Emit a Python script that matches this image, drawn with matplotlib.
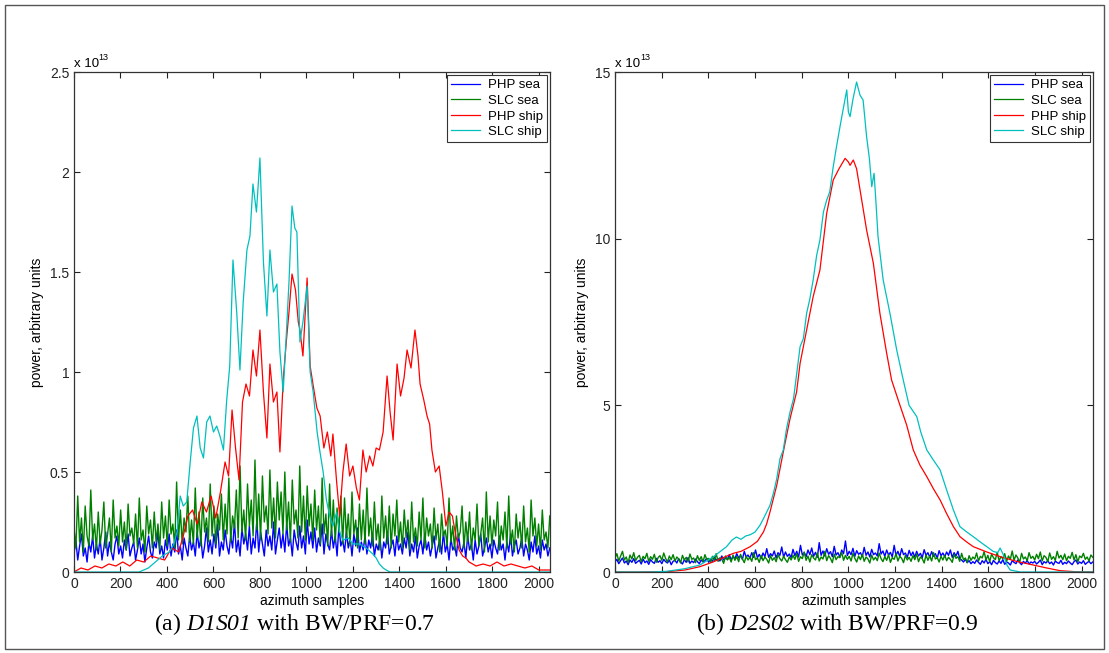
import matplotlib.pyplot as plt
import numpy as np
from matplotlib.patches import Rectangle
from matplotlib.ticker import FormatStrFormatter

plt.rcParams['font.family'] = ['Liberation Sans', 'DejaVu Sans']
# math mode only used for the italic run names in the captions
plt.rcParams['mathtext.fontset'] = 'custom'
plt.rcParams['mathtext.rm'] = 'Liberation Serif:italic'
plt.rcParams['mathtext.it'] = 'Liberation Serif:italic'

# all powers in units of 1e13

# (a) D1S01 -- sea clutter, one value every 8 samples
a_php_sea = [0.09, 0.16, 0.06, 0.13, 0.19, 0.08, 0.12, 0.05, 0.15, 0.10, 0.18, 0.07, 0.14, 0.09, 0.17, 0.06,
             0.12, 0.20, 0.08, 0.15, 0.10, 0.06, 0.14, 0.18, 0.09, 0.13, 0.07, 0.16, 0.11, 0.19, 0.08, 0.12,
             0.15, 0.06, 0.11, 0.17, 0.09, 0.14, 0.05, 0.12, 0.18, 0.10, 0.07, 0.15, 0.12, 0.20, 0.09, 0.13,
             0.07, 0.16, 0.11, 0.19, 0.08, 0.14, 0.10, 0.21, 0.09, 0.13, 0.06, 0.17, 0.12, 0.08, 0.18, 0.11,
             0.15, 0.08, 0.20, 0.12, 0.17, 0.07, 0.13, 0.22, 0.10, 0.16, 0.09, 0.19, 0.12, 0.24, 0.08, 0.15,
             0.11, 0.21, 0.13, 0.09, 0.18, 0.12, 0.25, 0.10, 0.16, 0.08, 0.22, 0.14, 0.19, 0.11, 0.23, 0.09,
             0.17, 0.12, 0.26, 0.10, 0.20, 0.14, 0.08, 0.21, 0.13, 0.18, 0.11, 0.25, 0.09, 0.16, 0.22, 0.12,
             0.19, 0.10, 0.24, 0.13, 0.17, 0.08, 0.21, 0.15, 0.11, 0.23, 0.12, 0.18, 0.09, 0.26, 0.14, 0.20,
             0.12, 0.22, 0.10, 0.17, 0.13, 0.24, 0.09, 0.19, 0.14, 0.11, 0.21, 0.12, 0.18, 0.08, 0.23, 0.13,
             0.16, 0.10, 0.20, 0.12, 0.17, 0.08, 0.19, 0.13, 0.22, 0.10, 0.15, 0.11, 0.18, 0.09, 0.16, 0.12,
             0.19, 0.08, 0.14, 0.11, 0.17, 0.07, 0.15, 0.12, 0.20, 0.09, 0.13, 0.16, 0.08, 0.18, 0.11, 0.14,
             0.09, 0.17, 0.12, 0.20, 0.08, 0.14, 0.10, 0.18, 0.07, 0.13, 0.16, 0.09, 0.19, 0.11, 0.15, 0.08,
             0.13, 0.18, 0.07, 0.12, 0.16, 0.09, 0.20, 0.10, 0.14, 0.06, 0.17, 0.11, 0.13, 0.08, 0.19, 0.12,
             0.10, 0.15, 0.07, 0.18, 0.11, 0.14, 0.06, 0.16, 0.09, 0.13, 0.19, 0.08, 0.12, 0.17, 0.10, 0.14,
             0.07, 0.16, 0.12, 0.09, 0.18, 0.11, 0.14, 0.06, 0.15, 0.10, 0.19, 0.08, 0.13, 0.16, 0.09, 0.12,
             0.17, 0.08, 0.14, 0.11, 0.06, 0.15, 0.10, 0.18, 0.09, 0.13, 0.07, 0.16, 0.11, 0.14, 0.08, 0.12]
a_slc_sea = [0.22, 0.12, 0.38, 0.15, 0.27, 0.10, 0.33, 0.18, 0.13, 0.41, 0.16, 0.24, 0.11, 0.30, 0.14, 0.21,
             0.35, 0.12, 0.19, 0.27, 0.10, 0.36, 0.17, 0.23, 0.13, 0.31, 0.15, 0.25, 0.11, 0.34, 0.18, 0.22,
             0.14, 0.29, 0.12, 0.37, 0.16, 0.21, 0.10, 0.33, 0.19, 0.26, 0.12, 0.30, 0.15, 0.24, 0.11, 0.35,
             0.17, 0.28, 0.13, 0.36, 0.19, 0.24, 0.12, 0.45, 0.16, 0.31, 0.14, 0.27, 0.20, 0.38, 0.15, 0.26,
             0.14, 0.42, 0.17, 0.30, 0.13, 0.37, 0.20, 0.27, 0.15, 0.44, 0.18, 0.33, 0.14, 0.29, 0.21, 0.39,
             0.16, 0.34, 0.19, 0.47, 0.15, 0.28, 0.22, 0.41, 0.17, 0.53, 0.20, 0.31, 0.16, 0.44, 0.23, 0.36,
             0.18, 0.56, 0.21, 0.39, 0.16, 0.48, 0.25, 0.33, 0.19, 0.51, 0.22, 0.37, 0.17, 0.45, 0.26, 0.40,
             0.19, 0.50, 0.21, 0.35, 0.15, 0.46, 0.24, 0.31, 0.17, 0.53, 0.20, 0.38, 0.16, 0.43, 0.23, 0.34,
             0.16, 0.41, 0.21, 0.33, 0.14, 0.47, 0.19, 0.29, 0.13, 0.44, 0.18, 0.36, 0.15, 0.32, 0.20, 0.38,
             0.14, 0.37, 0.17, 0.29, 0.13, 0.40, 0.19, 0.26, 0.12, 0.34, 0.16, 0.31, 0.14, 0.42, 0.18, 0.27,
             0.13, 0.35, 0.16, 0.24, 0.11, 0.38, 0.17, 0.28, 0.14, 0.33, 0.12, 0.29, 0.18, 0.36, 0.15, 0.25,
             0.12, 0.31, 0.17, 0.26, 0.11, 0.35, 0.15, 0.22, 0.13, 0.30, 0.16, 0.37, 0.12, 0.27, 0.18, 0.24,
             0.12, 0.32, 0.16, 0.24, 0.10, 0.29, 0.18, 0.21, 0.13, 0.37, 0.15, 0.23, 0.11, 0.28, 0.17, 0.20,
             0.33, 0.12, 0.25, 0.15, 0.30, 0.11, 0.22, 0.16, 0.34, 0.13, 0.19, 0.27, 0.10, 0.40, 0.15, 0.28,
             0.13, 0.26, 0.18, 0.35, 0.11, 0.23, 0.16, 0.30, 0.12, 0.38, 0.14, 0.21, 0.10, 0.29, 0.17, 0.25,
             0.12, 0.33, 0.15, 0.22, 0.10, 0.36, 0.18, 0.27, 0.13, 0.24, 0.11, 0.31, 0.16, 0.20, 0.12, 0.28]

# (a) ship curves
a_php_ship_x = [0, 30, 60, 90, 120, 150, 180, 210, 240, 270, 300, 330, 360, 390, 420, 450, 470, 490, 510, 530,
                550, 570, 590, 610, 630, 650, 665, 680, 695, 710, 725, 740, 755, 770, 785, 800, 815, 830, 843, 858,
                873, 886, 900, 914, 925, 938, 953, 965, 972, 985, 1003, 1016, 1028, 1045, 1059, 1075, 1090, 1105,
                1114, 1130, 1143, 1157, 1171, 1186, 1200, 1215, 1228, 1243, 1257, 1272, 1286, 1300, 1314, 1330,
                1347, 1360, 1373, 1390, 1405, 1420, 1433, 1450, 1467, 1480, 1489, 1505, 1519, 1530, 1540, 1555,
                1571, 1585, 1600, 1614, 1628, 1643, 1657, 1672, 1686, 1700, 1730, 1760, 1790, 1820, 1850, 1880,
                1910, 1940, 1970, 2000, 2030, 2047]
a_php_ship = [0.00, 0.02, 0.01, 0.03, 0.02, 0.04, 0.03, 0.05, 0.03, 0.06, 0.05, 0.08, 0.07, 0.06, 0.12, 0.10,
              0.18, 0.28, 0.31, 0.24, 0.35, 0.30, 0.38, 0.27, 0.40, 0.55, 0.48, 0.81, 0.62, 0.46, 0.85, 0.94,
              0.88, 1.11, 0.98, 1.21, 0.90, 0.67, 1.04, 0.85, 0.90, 0.60, 0.96, 1.16, 1.30, 1.49, 1.41, 1.25,
              1.21, 1.08, 1.47, 1.03, 0.94, 0.82, 0.78, 0.62, 0.70, 0.58, 0.69, 0.45, 0.28, 0.50, 0.64, 0.48,
              0.53, 0.42, 0.36, 0.61, 0.50, 0.58, 0.53, 0.62, 0.61, 0.70, 0.98, 0.80, 0.66, 1.04, 0.88, 0.97,
              1.11, 1.02, 1.21, 1.08, 0.94, 0.86, 0.78, 0.74, 0.61, 0.50, 0.53, 0.40, 0.23, 0.30, 0.28, 0.18,
              0.11, 0.08, 0.07, 0.05, 0.03, 0.04, 0.03, 0.05, 0.03, 0.04, 0.03, 0.02, 0.03, 0.01, 0.01, 0.01]
a_slc_ship_x = [0, 100, 200, 280, 320, 350, 380, 410, 430, 443, 457, 470, 485, 500, 514, 529, 543, 557, 571, 585,
                600, 614, 628, 643, 657, 670, 684, 700, 714, 728, 744, 757, 770, 785, 800, 815, 830, 843, 858, 873,
                886, 900, 914, 925, 938, 950, 959, 972, 985, 1003, 1016, 1029, 1046, 1057, 1072, 1086, 1100, 1114,
                1130, 1143, 1157, 1180, 1200, 1228, 1257, 1286, 1300, 1314, 1330, 1343, 1360, 1500, 2047]
a_slc_ship = [0.00, 0.00, 0.00, 0.00, 0.02, 0.05, 0.08, 0.10, 0.14, 0.20, 0.38, 0.33, 0.35, 0.55, 0.72, 0.78,
              0.62, 0.57, 0.75, 0.78, 0.70, 0.73, 0.68, 0.61, 0.86, 1.03, 1.56, 1.30, 1.01, 1.35, 1.61, 1.68,
              1.94, 1.80, 2.07, 1.55, 1.28, 1.61, 1.40, 1.44, 1.10, 0.90, 1.20, 1.45, 1.83, 1.72, 1.70, 1.15,
              1.25, 1.43, 1.00, 0.90, 0.70, 0.61, 0.50, 0.36, 0.28, 0.23, 0.30, 0.20, 0.16, 0.17, 0.14, 0.14,
              0.12, 0.09, 0.07, 0.04, 0.02, 0.01, 0.00, 0.00, 0.00]

# (b) D2S02 -- sea clutter, one value every 8 samples
b_php_sea = [0.30, 0.38, 0.25, 0.34, 0.42, 0.27, 0.33, 0.22, 0.36, 0.29, 0.40, 0.26, 0.31, 0.35, 0.24, 0.39,
             0.28, 0.33, 0.23, 0.37, 0.30, 0.26, 0.41, 0.29, 0.34, 0.25, 0.38, 0.31, 0.27, 0.36, 0.22, 0.32,
             0.35, 0.27, 0.40, 0.30, 0.24, 0.37, 0.29, 0.43, 0.26, 0.33, 0.28, 0.39, 0.31, 0.25, 0.36, 0.30,
             0.34, 0.41, 0.29, 0.37, 0.32, 0.45, 0.35, 0.40, 0.33, 0.48, 0.36, 0.42, 0.38, 0.52, 0.37, 0.46,
             0.40, 0.55, 0.42, 0.49, 0.38, 0.62, 0.45, 0.51, 0.41, 0.58, 0.44, 0.66, 0.43, 0.53, 0.40, 0.57,
             0.46, 0.70, 0.44, 0.55, 0.48, 0.63, 0.42, 0.58, 0.50, 0.75, 0.45, 0.60, 0.47, 0.54, 0.43, 0.68,
             0.49, 0.62, 0.45, 0.80, 0.51, 0.58, 0.46, 0.66, 0.52, 0.72, 0.47, 0.59, 0.44, 0.88, 0.50, 0.63,
             0.48, 0.70, 0.53, 0.61, 0.46, 0.77, 0.51, 0.58, 0.45, 0.66, 0.55, 0.93, 0.49, 0.62, 0.52, 0.71,
             0.47, 0.64, 0.53, 0.58, 0.46, 0.74, 0.50, 0.60, 0.45, 0.68, 0.52, 0.57, 0.48, 0.85, 0.54, 0.63,
             0.47, 0.66, 0.51, 0.59, 0.45, 0.80, 0.50, 0.62, 0.46, 0.70, 0.52, 0.57, 0.44, 0.65, 0.49, 0.60,
             0.45, 0.62, 0.48, 0.56, 0.43, 0.67, 0.50, 0.58, 0.44, 0.61, 0.47, 0.55, 0.42, 0.64, 0.49, 0.57,
             0.46, 0.60, 0.50, 0.66, 0.44, 0.58, 0.48, 0.62, 0.40, 0.36, 0.30, 0.38, 0.28, 0.34, 0.25, 0.31,
             0.26, 0.36, 0.29, 0.23, 0.34, 0.27, 0.38, 0.25, 0.31, 0.22, 0.35, 0.28, 0.24, 0.33, 0.26, 0.37,
             0.23, 0.30, 0.27, 0.21, 0.34, 0.29, 0.25, 0.36, 0.28, 0.22, 0.32, 0.26, 0.35, 0.24, 0.30, 0.27,
             0.32, 0.24, 0.29, 0.36, 0.22, 0.31, 0.27, 0.34, 0.25, 0.30, 0.21, 0.33, 0.28, 0.26, 0.35, 0.23,
             0.29, 0.25, 0.33, 0.27, 0.22, 0.31, 0.36, 0.24, 0.30, 0.26, 0.34, 0.23, 0.28, 0.32, 0.25, 0.30]
b_slc_sea = [0.42, 0.55, 0.33, 0.48, 0.62, 0.36, 0.45, 0.28, 0.51, 0.39, 0.58, 0.34, 0.44, 0.50, 0.31, 0.47,
             0.40, 0.56, 0.32, 0.46, 0.38, 0.53, 0.29, 0.43, 0.49, 0.35, 0.57, 0.41, 0.30, 0.48, 0.37, 0.52,
             0.33, 0.45, 0.39, 0.27, 0.50, 0.36, 0.44, 0.30, 0.54, 0.38, 0.42, 0.28, 0.49, 0.35, 0.46, 0.31,
             0.52, 0.37, 0.41, 0.29, 0.47, 0.34, 0.55, 0.32, 0.43, 0.38, 0.26, 0.48, 0.36, 0.44, 0.30, 0.51,
             0.35, 0.46, 0.31, 0.53, 0.39, 0.28, 0.47, 0.36, 0.44, 0.32, 0.58, 0.37, 0.42, 0.29, 0.50, 0.34,
             0.45, 0.38, 0.27, 0.49, 0.35, 0.43, 0.31, 0.52, 0.40, 0.33, 0.47, 0.37, 0.29, 0.45, 0.36, 0.50,
             0.38, 0.55, 0.32, 0.46, 0.40, 0.60, 0.35, 0.48, 0.30, 0.52, 0.42, 0.36, 0.57, 0.33, 0.45, 0.39,
             0.62, 0.34, 0.49, 0.41, 0.28, 0.54, 0.37, 0.46, 0.43, 0.59, 0.35, 0.50, 0.38, 0.47, 0.33, 0.56,
             0.41, 0.30, 0.48, 0.37, 0.53, 0.32, 0.45, 0.39, 0.27, 0.51, 0.36, 0.44, 0.34, 0.57, 0.40, 0.31,
             0.46, 0.35, 0.52, 0.29, 0.43, 0.38, 0.55, 0.33, 0.47, 0.41, 0.28, 0.50, 0.36, 0.44, 0.32, 0.49,
             0.37, 0.54, 0.31, 0.45, 0.40, 0.27, 0.51, 0.35, 0.48, 0.33, 0.58, 0.39, 0.43, 0.30, 0.47, 0.36,
             0.50, 0.34, 0.44, 0.38, 0.29, 0.53, 0.41, 0.46, 0.32, 0.56, 0.37, 0.42, 0.28, 0.49, 0.35, 0.45,
             0.39, 0.57, 0.33, 0.47, 0.42, 0.61, 0.36, 0.50, 0.31, 0.54, 0.43, 0.37, 0.59, 0.34, 0.46, 0.40,
             0.55, 0.32, 0.48, 0.38, 0.63, 0.35, 0.51, 0.42, 0.29, 0.56, 0.39, 0.45, 0.34, 0.58, 0.41, 0.47,
             0.36, 0.53, 0.40, 0.60, 0.33, 0.49, 0.44, 0.31, 0.57, 0.38, 0.46, 0.35, 0.62, 0.42, 0.50, 0.37,
             0.54, 0.34, 0.47, 0.41, 0.59, 0.36, 0.52, 0.30, 0.48, 0.43, 0.56, 0.38, 0.45, 0.33, 0.51, 0.44]

# (b) ship curves
b_php_ship_x = [0, 100, 221, 300, 364, 420, 470, 507, 540, 579, 610, 636, 650, 664, 693, 721, 750, 778, 793, 821,
                849, 878, 907, 935, 960, 986, 1000, 1007, 1021, 1035, 1050, 1078, 1107, 1135, 1164, 1185, 1221,
                1250, 1278, 1307, 1336, 1364, 1393, 1421, 1450, 1478, 1507, 1535, 1593, 1650, 1720, 1792, 1850,
                1907, 1970, 2047]
b_php_ship = [0.00, 0.00, 0.01, 0.06, 0.16, 0.30, 0.45, 0.56, 0.62, 0.76, 0.92, 1.20, 1.45, 1.80, 2.60, 3.60,
              4.60, 5.40, 6.26, 7.26, 8.26, 9.06, 10.76, 11.76, 12.10, 12.41, 12.30, 12.20, 12.36, 12.10, 11.46,
              10.26, 9.26, 7.76, 6.56, 5.76, 5.00, 4.40, 3.66, 3.20, 2.86, 2.50, 2.16, 1.75, 1.36, 1.06, 0.90,
              0.76, 0.60, 0.46, 0.32, 0.21, 0.12, 0.04, 0.01, 0.00]
b_slc_ship_x = [0, 150, 221, 300, 364, 420, 478, 500, 520, 540, 560, 580, 600, 621, 636, 664, 680, 693, 707, 721,
                735, 750, 765, 793, 807, 821, 835, 849, 864, 878, 893, 907, 920, 935, 950, 964, 978, 993, 1000,
                1007, 1020, 1035, 1050, 1063, 1078, 1090, 1100, 1110, 1118, 1127, 1149, 1178, 1207, 1235, 1260,
                1293, 1310, 1336, 1364, 1393, 1421, 1450, 1478, 1507, 1535, 1565, 1593, 1620, 1640, 1650, 1665,
                1680, 1693, 1736, 2047]
b_slc_ship = [0.00, 0.00, 0.02, 0.10, 0.21, 0.45, 0.76, 0.95, 1.05, 0.98, 1.08, 1.12, 1.20, 1.40, 1.60, 2.00,
              2.40, 2.80, 3.40, 3.66, 4.30, 4.80, 5.20, 6.76, 7.00, 7.76, 8.20, 8.76, 9.50, 9.96, 10.80, 11.16,
              11.40, 12.16, 12.80, 13.36, 13.90, 14.46, 13.80, 13.66, 14.20, 14.70, 14.30, 14.16, 13.06, 12.40,
              11.56, 11.96, 11.10, 10.06, 8.76, 7.76, 6.66, 5.76, 5.00, 4.66, 4.20, 3.66, 3.36, 3.06, 2.46,
              1.86, 1.36, 1.20, 1.06, 0.90, 0.76, 0.62, 0.58, 0.72, 0.50, 0.20, 0.06, 0.00, 0.00]

captions = [r'(a) $D1S01$ with BW/PRF=0.7', r'(b) $D2S02$ with BW/PRF=0.9']

W, H = 1109, 653
fig = plt.figure(figsize=(W / 100, H / 100), dpi=100)
ax1 = fig.add_axes([74 / W, 1 - 572 / H, 476 / W, 500 / H])
ax2 = fig.add_axes([615 / W, 1 - 572 / H, 478 / W, 500 / H])


def panel(ax, php_sea, slc_sea, php_x, php, slc_x, slc, ymax, yticks):
    xs = np.linspace(0, 2047, len(php_sea))
    ax.plot(xs, php_sea, color='#0000ff', lw=1.0, label='PHP sea')
    ax.plot(xs, slc_sea, color='#008000', lw=1.0, label='SLC sea')
    ax.plot(php_x, php, color='#ff0000', lw=0.9, label='PHP ship')
    ax.plot(slc_x, slc, color='#00bfbf', lw=0.9, label='SLC ship')
    ax.set_xlim(0, 2048)
    ax.set_ylim(0, ymax)
    ax.set_xticks(range(0, 2001, 200))
    ax.set_yticks(yticks)
    ax.yaxis.set_major_formatter(FormatStrFormatter('%g'))
    ax.tick_params(direction='in', top=True, right=True, length=4, width=0.8,
                   labelsize=10, colors='#222222')
    for s in ax.spines.values():
        s.set_linewidth(0.9)
        s.set_color('#333333')
    ax.set_xlabel('azimuth samples', fontsize=10, labelpad=2)
    ax.set_ylabel('power, arbitrary units', fontsize=10, labelpad=4)
    leg = ax.legend(loc='upper right', fontsize=9.5, fancybox=False, edgecolor='#333333',
                    framealpha=1, borderaxespad=0.25, handlelength=2.2, labelspacing=0.25,
                    borderpad=0.3, handletextpad=0.6)
    leg.get_frame().set_linewidth(0.8)
    for line in leg.get_lines():
        line.set_linewidth(0.9)
    ax.text(0.0, 1.011, 'x 10', transform=ax.transAxes, fontsize=9.5, va='baseline', ha='left')
    ax.text(0.052, 1.024, '13', transform=ax.transAxes, fontsize=6.5, va='baseline', ha='left')


panel(ax1, a_php_sea, a_slc_sea, a_php_ship_x, a_php_ship, a_slc_ship_x, a_slc_ship,
      2.5, [0, 0.5, 1, 1.5, 2, 2.5])
panel(ax2, b_php_sea, b_slc_sea, b_php_ship_x, b_php_ship, b_slc_ship_x, b_slc_ship,
      15, [0, 5, 10, 15])

fig.text(295 / W, 1 - 624 / H, captions[0], fontsize=17, family='Liberation Serif',
         ha='center', va='center')
fig.text(837 / W, 1 - 624 / H, captions[1], fontsize=17, family='Liberation Serif',
         ha='center', va='center')

fig.patches.append(Rectangle((5 / W, 4 / H), 1099 / W, 644 / H, transform=fig.transFigure,
                             fill=False, edgecolor='#555555', lw=1))

fig.savefig('out.png', dpi=100)
